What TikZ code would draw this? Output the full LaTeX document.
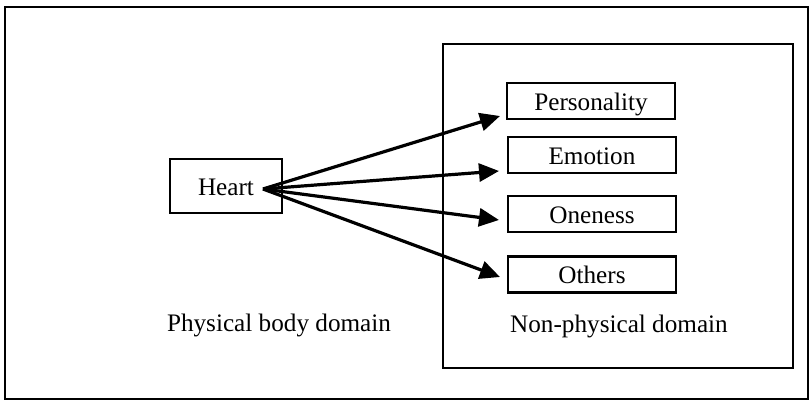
\documentclass[tikz,border=0pt]{standalone}
\usepackage{fontspec}
\setmainfont{Liberation Serif}
\usetikzlibrary{arrows.meta}

\begin{document}
\begin{tikzpicture}[x=0.5pt, y=-0.5pt, line width=1.1pt,
	every node/.style={font=\fontsize{12.6}{15}\selectfont},
	box/.style={draw, line width=1.2pt, inner sep=0pt, text height=11pt, text depth=2pt,
		minimum width=84pt, minimum height=18pt},
	link/.style={line width=1.6pt, -{Triangle[length=10pt, width=9pt]}}]

	% ---- frames

	\useasboundingbox (0,0) rectangle (811,402);
	\draw (5,7) rectangle (808,399);
	\draw (443,44) rectangle (793,368);

	% ---- boxes

	\node[box, minimum width=56pt, minimum height=27pt] (heart) at (226,186) {Heart};

	\node[box] (pers) at (591,101) {Personality};
	\node[box] (emot) at (592,155) {Emotion};
	\node[box] (one)  at (592,214) {Oneness};
	\node[box] (oth)  at (592,274.5) {Others};

	% ---- domain labels

	\node[anchor=base] (phys)    at (279,331) {Physical body domain};
	\node[anchor=base] (nonphys) at (619,332) {Non-physical domain};

	% ---- arrow ends

	\coordinate (hub) at (263,189);
	\coordinate (tP) at (500,116);
	\coordinate (tE) at (499,171);
	\coordinate (tO) at (499,220);
	\coordinate (tX) at (500,277);

	% ---- arrows

	\foreach \t in {tP,tE,tO,tX} { \draw[link] (hub) -- (\t); }

\end{tikzpicture}
\end{document}
